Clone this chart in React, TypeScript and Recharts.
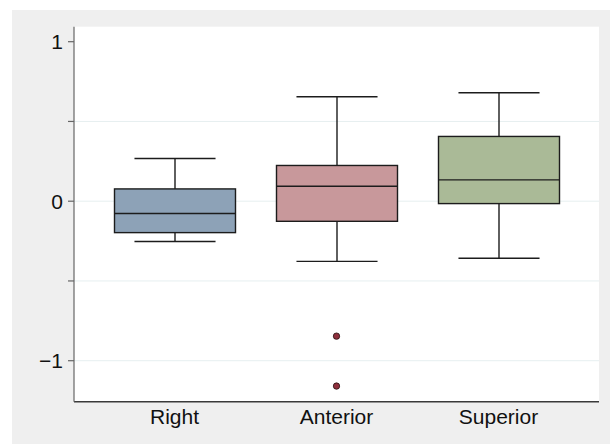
import {
  ComposedChart,
  Bar,
  Scatter,
  XAxis,
  YAxis,
  CartesianGrid,
} from "recharts";

// box plot summaries
const groups = ["Right", "Anterior", "Superior"];
const lowerWhisker = [-0.253, -0.377, -0.358];
const q1 = [-0.197, -0.126, -0.015];
const median = [-0.077, 0.094, 0.134];
const q3 = [0.077, 0.224, 0.406];
const upperWhisker = [0.268, 0.655, 0.68];
const boxColors = ["#8DA2B7", "#C8989B", "#AABA97"];

// outside values (only Anterior has any)
const outlierA = [null, -0.846, null];
const outlierB = [null, -1.159, null];

const yTicks = [-1, -0.5, 0, 0.5, 1];
const gridValues = [-1, -0.5, 0, 0.5];

const data = groups.map((name, i) => ({
  name,
  lo: lowerWhisker[i],
  q1: q1[i],
  med: median[i],
  q3: q3[i],
  hi: upperWhisker[i],
  color: boxColors[i],
  o1: outlierA[i],
  o2: outlierB[i],
}));

// draws box + whiskers; pixel positions come from the bar's own scaled rect
const BoxShape = (props: any) => {
  const { x, y, width, height, payload } = props;
  const top = Math.min(y, y + height);
  const h = Math.abs(height);
  const ppu = h / (payload.q3 - payload.q1);
  const py = (v: number) => top + (payload.q3 - v) * ppu;
  const cx = x + width / 2;
  const capW = width * 0.67;
  const ink = "#1c1c1c";
  return (
    <g>
      <line x1={cx} x2={cx} y1={py(payload.hi)} y2={top} stroke={ink} strokeWidth={1.4} />
      <line x1={cx} x2={cx} y1={top + h} y2={py(payload.lo)} stroke={ink} strokeWidth={1.4} />
      <line x1={cx - capW / 2} x2={cx + capW / 2} y1={py(payload.hi)} y2={py(payload.hi)} stroke={ink} strokeWidth={1.4} />
      <line x1={cx - capW / 2} x2={cx + capW / 2} y1={py(payload.lo)} y2={py(payload.lo)} stroke={ink} strokeWidth={1.4} />
      <rect x={x} y={top} width={width} height={h} fill={payload.color} stroke={ink} strokeWidth={1.4} />
      <line x1={x} x2={x + width} y1={py(payload.med)} y2={py(payload.med)} stroke={ink} strokeWidth={1.4} />
    </g>
  );
};

const Dot = (props: any) => {
  const { cx, cy } = props;
  if (cx == null || cy == null || isNaN(cx) || isNaN(cy)) return null;
  return <circle cx={cx} cy={cy} r={3.2} fill="#8E2F3C" stroke="#2a1212" strokeWidth={0.8} />;
};

const fmtY = (v: number) => {
  if (v === 0) return "0";
  if (v === 1) return "1";
  if (v === -1) return "\u22121";
  return "";
};

export default function App() {
  return (
    <div style={{ position: "absolute", left: 0, top: 0, width: 610, height: 444, background: "#fff" }}>
      <div
        style={{
          position: "absolute",
          left: 12,
          top: 10,
          width: 598,
          height: 434,
          background: "#EFEFEF",
          fontFamily: "'Liberation Sans', Arial, sans-serif",
        }}
      >
        <ComposedChart
          width={598}
          height={434}
          data={data}
          margin={{ top: 16.7, right: 11, bottom: 0, left: 0 }}
        >
          <CartesianGrid
            fill="#fff"
            stroke="#E6EFF0"
            vertical={false}
            horizontalValues={gridValues}
          />
          <XAxis
            dataKey="name"
            type="category"
            padding={{ left: 19.5, right: 19.5 }}
            height={42.3}
            tickLine={false}
            tickSize={0}
            tickMargin={7}
            axisLine={{ stroke: "#3a3a3a", strokeWidth: 1.5 }}
            tick={{ fill: "#111", fontSize: 21 }}
          />
          <YAxis
            type="number"
            domain={[-1.257, 1.094]}
            ticks={yTicks}
            tickFormatter={fmtY}
            width={62}
            tickSize={6}
            tickMargin={5}
            allowDataOverflow
            axisLine={{ stroke: "#666", strokeWidth: 1.2 }}
            tickLine={{ stroke: "#666", strokeWidth: 1.2 }}
            tick={{ fill: "#111", fontSize: 21 }}
          />
          <Bar
            dataKey={(d: any) => [d.q1, d.q3]}
            barSize={121}
            shape={<BoxShape />}
            isAnimationActive={false}
          />
          <Scatter dataKey="o1" shape={<Dot />} isAnimationActive={false} />
          <Scatter dataKey="o2" shape={<Dot />} isAnimationActive={false} />
        </ComposedChart>
      </div>
    </div>
  );
}
